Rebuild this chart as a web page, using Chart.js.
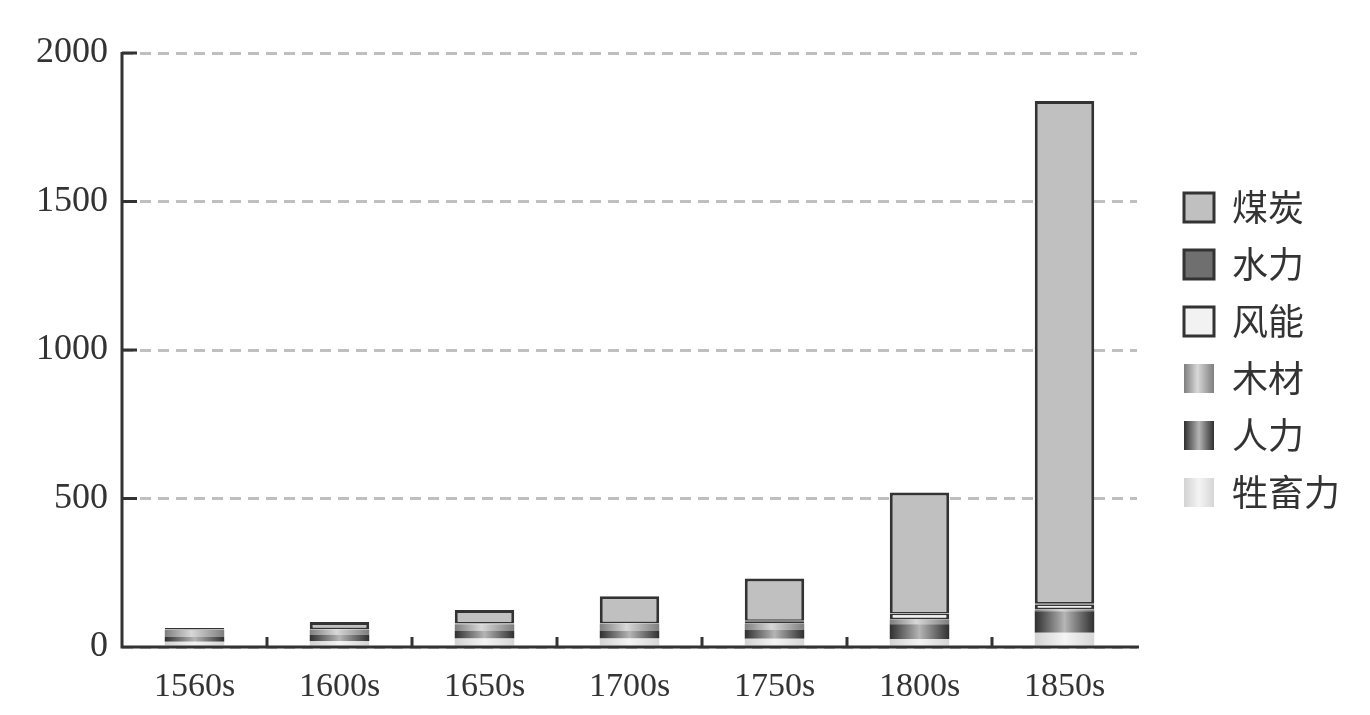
<!DOCTYPE html>
<html><head><meta charset="utf-8">
<script src="https://cdn.jsdelivr.net/npm/chart.js@4.4.1/dist/chart.umd.min.js"></script>
<style>html,body{margin:0;padding:0;background:#fff;}#wrap{width:1370px;height:715px;}</style>
</head><body><div id="wrap"><canvas id="c" width="1370" height="715"></canvas></div>
<script>
const categories = ['1560s','1600s','1650s','1700s','1750s','1800s','1850s'];
const animalPower = [18, 19, 29, 29, 28, 26, 48];
const humanPower  = [16, 22, 25, 25, 30, 51, 72];
const wood        = [23, 18, 23, 25, 21, 16, 6];
const wind        = [1, 1, 2, 1, 6, 19, 17];
const water       = [1, 0.5, 1, 1, 3, 1, 4];
const coal        = [5, 23.5, 45, 90, 143, 407, 1691];
const yTicks = [0, 500, 1000, 1500, 2000];

const BAR_PCT = 0.41;
const BOX_W = 30;
const stopsWood   = [[0,'#7e7e7e'],[0.45,'#d8d8d8'],[1,'#7e7e7e']];
const stopsHuman  = [[0,'#2f2f2f'],[0.5,'#b5b5b5'],[1,'#2f2f2f']];
const stopsAnimal = [[0,'#d2d2d2'],[0.5,'#f4f4f4'],[1,'#d6d6d6']];

function barGrad(c, stops, fallback) {
  const chart = c.chart;
  const xs = chart.scales && chart.scales.x;
  if (c.dataIndex === undefined || !xs || !chart.chartArea) return fallback;
  const cx = xs.getPixelForValue(c.dataIndex);
  const w = (xs.width / categories.length) * BAR_PCT;
  const g = chart.ctx.createLinearGradient(cx - w / 2, 0, cx + w / 2, 0);
  stops.forEach(s => g.addColorStop(s[0], s[1]));
  return g;
}

const datasets = [
  {label:'牲畜力', data: animalPower, stops: stopsAnimal, flat:'#e6e6e6', bordered:false,
   backgroundColor: c => barGrad(c, stopsAnimal, '#e6e6e6'), borderWidth:0},
  {label:'人力', data: humanPower, stops: stopsHuman, flat:'#666', bordered:false,
   backgroundColor: c => barGrad(c, stopsHuman, '#666'), borderWidth:0},
  {label:'木材', data: wood, stops: stopsWood, flat:'#aaa', bordered:false,
   backgroundColor: c => barGrad(c, stopsWood, '#aaa'), borderWidth:0},
  {label:'风能', data: wind, flat:'#f2f2f2', bordered:true,
   backgroundColor:'#f2f2f2', borderColor:'#333',
   borderWidth:{top:1.5, bottom:2, left:3, right:3}, borderSkipped:false},
  {label:'水力', data: water, flat:'#6f6f6f', bordered:true,
   backgroundColor:'#6f6f6f', borderColor:'#333',
   borderWidth:{top:1.5, bottom:1.5, left:3, right:3}, borderSkipped:false},
  {label:'煤炭', data: coal, flat:'#c0c0c0', bordered:true,
   backgroundColor:'#c0c0c0', borderColor:'#333',
   borderWidth:{top:3, bottom:1.5, left:3, right:3}, borderSkipped:false}
];
datasets.forEach(d => { d.barPercentage = BAR_PCT; d.categoryPercentage = 1.0; });

const legendGradPlugin = {
  id:'legendGrad',
  beforeDraw(chart) {
    const lg = chart.legend;
    if (!lg || !lg.legendItems || !lg.legendHitBoxes) return;
    lg.legendItems.forEach((it, i) => {
      const ds = chart.data.datasets[it.datasetIndex];
      const hb = lg.legendHitBoxes[i];
      if (!ds.stops || !hb) return;
      const g = chart.ctx.createLinearGradient(hb.left, 0, hb.left + BOX_W, 0);
      ds.stops.forEach(s => g.addColorStop(s[0], s[1]));
      it.fillStyle = g;
    });
  }
};

const axisPlugin = {
  id:'axisDecor',
  afterDatasetsDraw(chart) {
    const {ctx, chartArea:a, scales:{x, y}} = chart;
    ctx.save();
    ctx.setLineDash([]);
    ctx.strokeStyle = '#333';
    ctx.lineWidth = 3;
    ctx.beginPath();
    ctx.moveTo(a.left, a.top - 1); ctx.lineTo(a.left, a.bottom);
    ctx.moveTo(a.left - 1.5, a.bottom); ctx.lineTo(a.right + 2, a.bottom);
    yTicks.forEach(v => {
      if (v === 0) return;
      const py = y.getPixelForValue(v);
      ctx.moveTo(a.left, py); ctx.lineTo(a.left + 15, py);
    });
    const cw = (a.right - a.left) / categories.length;
    for (let i = 0; i < categories.length - 1; i++) {
      const px = x.getPixelForValue(i) + cw / 2;
      ctx.moveTo(px, a.bottom); ctx.lineTo(px, a.bottom - 10);
    }
    ctx.stroke();
    ctx.restore();
  }
};

new Chart(document.getElementById('c'), {
  type:'bar',
  data:{ labels: categories, datasets },
  options:{
    responsive:false,
    animation:false,
    layout:{ padding:{ left:0, right:20, top:53, bottom:0 } },
    plugins:{
      tooltip:{ enabled:false },
      legend:{
        position:'right', align:'center', fullSize:false,
        labels:{
          boxWidth:BOX_W, boxHeight:29, padding:21, color:'#333',
          font:{ family:'"Noto Sans CJK SC"', size:36 },
          generateLabels(chart) {
            return chart.data.datasets.map((ds, i) => ({
              text: ds.label, fillStyle: ds.flat, strokeStyle:'#333',
              lineWidth: ds.bordered ? 3 : 0, hidden: !chart.isDatasetVisible(i),
              datasetIndex: i, fontColor:'#333'
            })).reverse();
          }
        }
      }
    },
    scales:{
      x:{
        stacked:true,
        grid:{ display:false }, border:{ display:false },
        ticks:{ color:'#333', padding:12, maxRotation:0, font:{ family:'"Liberation Serif"', size:34 } },
        afterFit(s){ s.height = 68; }
      },
      y:{
        stacked:true, min:0, max:2000,
        grid:{ color:'#bfbfbf', lineWidth:3, drawTicks:false },
        border:{ display:false, dash:[11,7] },
        ticks:{ color:'#333', padding:14, font:{ family:'"Liberation Serif"', size:36 }, callback: v => String(v) },
        afterBuildTicks(s){ s.ticks = yTicks.map(v => ({ value:v })); },
        afterFit(s){ s.width = 122; }
      },
      y2:{
        type:'linear', position:'right', display:true,
        grid:{ display:false }, border:{ display:false }, ticks:{ display:false },
        afterFit(s){ s.width = 26; }
      }
    }
  },
  plugins:[legendGradPlugin, axisPlugin]
});
</script></body></html>
